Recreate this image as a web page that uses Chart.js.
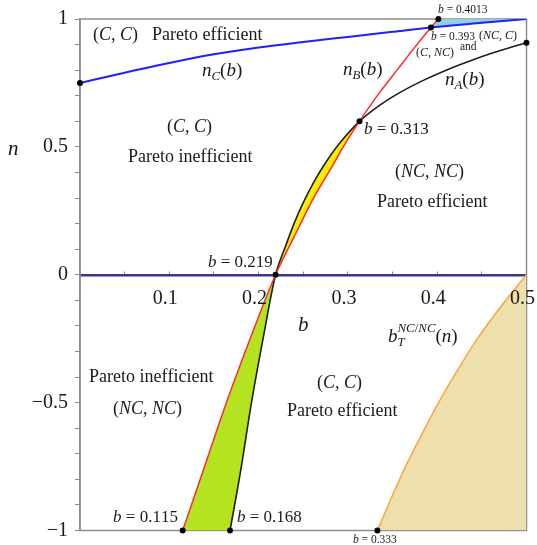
<!DOCTYPE html>
<html>
<head>
<meta charset="utf-8">
<script src="https://cdn.jsdelivr.net/npm/chart.js@4.4.1/dist/chart.umd.min.js"></script>
<style>
html,body{margin:0;padding:0;background:#fff;}
#wrap{width:537px;height:545px;}
</style>
</head>
<body>
<div id="wrap"><canvas id="chart"></canvas></div>
<script>
// curves (b on x, n on y)
const redB = [0.115, 0.14, 0.165, 0.19, 0.219, 0.24, 0.26, 0.28, 0.30, 0.313, 0.335, 0.355, 0.375, 0.393, 0.4013];
const redN = [-1, -0.745, -0.49, -0.255, 0, 0.15, 0.29, 0.41, 0.53, 0.60, 0.71, 0.80, 0.89, 0.967, 1];

const blackB = [0.168, 0.18, 0.192, 0.205, 0.219, 0.23, 0.24, 0.25, 0.262, 0.273, 0.29, 0.313, 0.337, 0.36, 0.385, 0.41, 0.435, 0.46, 0.48, 0.5];
const blackN = [-1, -0.765, -0.50, -0.25, 0, 0.11, 0.203, 0.282, 0.363, 0.427, 0.511, 0.60, 0.666, 0.716, 0.761, 0.80, 0.834, 0.865, 0.887, 0.907];

const blueB = [0, 0.05, 0.1, 0.15, 0.2, 0.25, 0.3, 0.35, 0.393, 0.45, 0.5];
const blueN = [0.75, 0.79, 0.828, 0.862, 0.889, 0.91, 0.93, 0.95, 0.967, 0.985, 1];

const orangeB = [0.333, 0.3484, 0.3645, 0.3826, 0.4015, 0.4225, 0.445, 0.4712, 0.5];
const orangeN = [-1, -0.875, -0.75, -0.625, -0.5, -0.375, -0.25, -0.125, 0];

const markB = [0, 0.4013, 0.393, 0.5, 0.313, 0.219, 0.115, 0.168, 0.333];
const markN = [0.75, 1, 0.967, 0.907, 0.6, 0, -1, -1, -1];

// text on the plot: [text, b, n, font size]  ($..$ = math, _ sub, ^ sup)
const notes = [
  ['$(C, C)$', 0.0146, 0.937, 18],
  ['Pareto efficient', 0.0806, 0.937, 18],
  ['$n_C(b)$', 0.1366, 0.797, 19],
  ['$(C, C)$', 0.0974, 0.578, 18],
  ['Pareto inefficient', 0.0538, 0.460, 18],
  ['$n_B(b)$', 0.2945, 0.801, 19],
  ['$n_A(b)$', 0.4087, 0.762, 19],
  ['$b$ = 0.4013', 0.4009, 1.035, 11.5],
  ['$b$ = 0.393', 0.3931, 0.931, 11.5],
  ['$(NC, C)$', 0.4468, 0.934, 12],
  ['and', 0.4255, 0.892, 11.5],
  ['$(C, NC)$', 0.3763, 0.866, 12],
  ['$b$ = 0.313', 0.318, 0.566, 17],
  ['$(NC, NC)$', 0.3527, 0.399, 18],
  ['Pareto efficient', 0.3326, 0.282, 18],
  ['$b$ = 0.219', 0.1433, 0.047, 17],
  ['$b_T^{NC/NC}(n)$', 0.3449, -0.243, 19],
  ['$b$', 0.2441, -0.1965, 21],
  ['$n$', -0.0806, 0.49, 21],
  ['Pareto inefficient', 0.0101, -0.399, 18],
  ['$(NC, NC)$', 0.037, -0.525, 18],
  ['$(C, C)$', 0.2654, -0.423, 18],
  ['Pareto efficient', 0.2318, -0.532, 18],
  ['$b$ = 0.115', 0.037, -0.951, 17],
  ['$b$ = 0.168', 0.1758, -0.951, 17],
  ['$b$ = 0.333', 0.3057, -1.037, 11.5]
];

const FAM = "'Liberation Serif', 'DejaVu Serif', serif";

function pts(bs, ns) {
  return bs.map((b, i) => ({x: b, y: ns[i]}));
}
const red = pts(redB, redN), black = pts(blackB, blackN), blue = pts(blueB, blueN);

// closed regions built from the curves
const greenShape = red.filter(p => p.y <= 0).concat(black.filter(p => p.y <= 0).reverse());
const yellowShape = red.filter(p => p.y >= 0 && p.y <= 0.6).concat(black.filter(p => p.y >= 0 && p.y <= 0.6).reverse());
const cyanShape = red.filter(p => p.x >= 0.393).concat(blue.filter(p => p.x >= 0.393).reverse());

function parse(str) {
  const out = [];
  let math = false;
  for (let i = 0; i < str.length; i++) {
    const c = str[i];
    if (c === '$') { math = !math; continue; }
    if (math && (c === '_' || c === '^')) {
      let grp;
      if (str[i + 1] === '{') { const j = str.indexOf('}', i); grp = str.slice(i + 2, j); i = j; }
      else { grp = str[i + 1]; i++; }
      const reset = c === '^' && out.length && out[out.length - 1].lvl === -1;
      out.push({t: grp, lvl: c === '_' ? -1 : 1, reset: reset});
      continue;
    }
    out.push({t: c, it: math && /[A-Za-z]/.test(c), lvl: 0});
  }
  return out;
}

function drawText(ctx, str, x, y, size) {
  let cx = x, subStart = x;
  ctx.textBaseline = 'middle';
  ctx.textAlign = 'left';
  ctx.fillStyle = '#1a1a1a';
  for (const r of parse(str)) {
    if (r.lvl === 0) {
      ctx.font = (r.it ? 'italic ' : '') + size + 'px ' + FAM;
      ctx.fillText(r.t, cx, y);
      cx += ctx.measureText(r.t).width;
    } else {
      const s = size * 0.68;
      const dy = r.lvl < 0 ? size * 0.28 : -size * 0.42;
      if (r.reset) { cx = subStart; }
      else { subStart = cx; }
      for (const ch of r.t) {
        ctx.font = (/[A-Za-z]/.test(ch) ? 'italic ' : '') + s + 'px ' + FAM;
        ctx.fillText(ch, cx, y + dy);
        cx += ctx.measureText(ch).width;
      }
    }
  }
}

const framePlugin = {
  id: 'frame',
  beforeDatasetsDraw(chart) {
    const a = chart.chartArea, ctx = chart.ctx;
    ctx.save();
    ctx.strokeStyle = '#8c8c8c';
    ctx.lineWidth = 1.5;
    ctx.strokeRect(a.left, a.top, a.right - a.left, a.bottom - a.top);
    ctx.restore();
  }
};

const notePlugin = {
  id: 'notes',
  afterDatasetsDraw(chart) {
    const ctx = chart.ctx, x = chart.scales.x, y = chart.scales.y;
    ctx.save();
    notes.forEach(n => drawText(ctx, n[0], x.getPixelForValue(n[1]), y.getPixelForValue(n[2]), n[3]));
    ctx.restore();
  }
};

const data = {
  datasets: [
    {data: markB.map((b, i) => ({x: b, y: markN[i]})), showLine: false, pointRadius: 3,
     pointBackgroundColor: '#000', pointBorderWidth: 0, clip: false, order: 0},
    {data: blue, borderColor: '#1f1fff', borderWidth: 2, pointRadius: 0, cubicInterpolationMode: 'monotone', order: 1},
    {data: red, borderColor: '#ff2a2a', borderWidth: 1.5, pointRadius: 0, cubicInterpolationMode: 'monotone', order: 1},
    {data: black, borderColor: '#1e1e1e', borderWidth: 1.6, pointRadius: 0, cubicInterpolationMode: 'monotone', order: 1},
    {data: pts(orangeB, orangeN), borderColor: '#ffa43a', borderWidth: 1.5, pointRadius: 0,
     cubicInterpolationMode: 'monotone', fill: 'start', backgroundColor: '#ede0ac', order: 1},
    {data: greenShape, borderWidth: 0, pointRadius: 0, fill: 'shape', backgroundColor: '#b4e31f', order: 2},
    {data: yellowShape, borderWidth: 0, pointRadius: 0, fill: 'shape', backgroundColor: '#ffec00', order: 2},
    {data: cyanShape, borderWidth: 0, pointRadius: 0, fill: 'shape', backgroundColor: '#8fd0e2', order: 2}
  ]
};

const tickFont = {family: FAM, size: 20};

const config = {
  type: 'line',
  data: data,
  options: {
    responsive: true,
    maintainAspectRatio: false,
    animation: false,
    devicePixelRatio: 1,
    layout: {padding: {left: 0, top: 19, right: 10.5, bottom: 14.5}},
    plugins: {legend: {display: false}, tooltip: {enabled: false}},
    scales: {
      x: {
        type: 'linear', min: 0, max: 0.5,
        position: {y: 0},
        border: {color: '#3d3490', width: 2.5},
        grid: {drawOnChartArea: false, tickLength: -5, color: '#8c8c8c'},
        ticks: {
          stepSize: 0.05, autoSkip: false, maxRotation: 0, padding: 17, labelOffset: -4, z: 1,
          font: tickFont, color: '#1a1a1a',
          callback: v => {
            const k = Math.round(v * 100);
            return (k === 0 || k % 10) ? '' : (k / 100).toString();
          }
        },
        afterFit: s => { s.paddingLeft = 0; s.paddingRight = 0; }
      },
      y: {
        type: 'linear', min: -1, max: 1,
        position: 'left',
        border: {color: '#8c8c8c', width: 1.5},
        grid: {drawOnChartArea: false, tickLength: 5, color: '#8c8c8c'},
        ticks: {
          stepSize: 0.1, autoSkip: false, padding: 7,
          font: tickFont, color: '#1a1a1a',
          callback: v => {
            const k = Math.round(v * 10);
            if (k % 5) return '';
            const s = (Math.abs(k) / 10).toString();
            return k < 0 ? '\u2212' + s : s;
          }
        },
        afterFit: s => { s.width = 80; s.paddingTop = 0; s.paddingBottom = 0; }
      }
    }
  },
  plugins: [framePlugin, notePlugin]
};

new Chart(document.getElementById('chart'), config);
</script>
</body>
</html>
